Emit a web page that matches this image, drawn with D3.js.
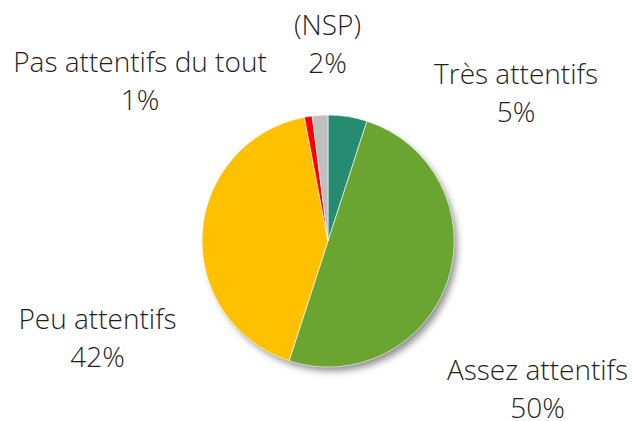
<!DOCTYPE html>
<html>
<head>
<meta charset="utf-8">
<script src="https://cdn.jsdelivr.net/npm/d3@7"></script>
<style>
  body { margin: 0; background: #fff; }
  svg text { font-family: "Open Sans", "Liberation Sans", sans-serif; font-weight: 300; fill: #1f1f1f; }
</style>
</head>
<body>
<svg id="chart" width="633" height="421"></svg>
<script>
// data, clockwise from 12 o'clock
var categories = ['Très attentifs', 'Assez attentifs', 'Peu attentifs', 'Pas attentifs du tout', '(NSP)'];
var values = [5, 50, 42, 1, 2];
var colors = ['#258B71', '#6BA531', '#FFC000', '#FF0000', '#BFBFBF'];

var svg = d3.select('#chart'),
    cx = 328, cy = 241, radius = 126;

// label anchor per slice: centre x, baseline of first line
var labelAnchor = {
    'Très attentifs': [516, 83.5],
    'Assez attentifs': [537.5, 380],
    'Peu attentifs': [97.5, 328.5],
    'Pas attentifs du tout': [140, 72],
    '(NSP)': [327.5, 35]
};
var lineGap = 38;

var defs = svg.append('defs');
var shadow = defs.append('filter').attr('id', 'shadow')
    .attr('x', '-20%').attr('y', '-20%').attr('width', '140%').attr('height', '140%');
shadow.append('feDropShadow')
    .attr('dx', 4).attr('dy', 5).attr('stdDeviation', 3.5)
    .attr('flood-color', '#000').attr('flood-opacity', 0.45);

var data = categories.map(function (c, i) {
    return { name: c, value: values[i], color: colors[i] };
});

var pie = d3.pie().sort(null).value(function (d) { return d.value; });
var arc = d3.arc().innerRadius(0).outerRadius(radius);

var g = svg.append('g').attr('transform', 'translate(' + cx + ',' + cy + ')');

g.append('circle').attr('r', radius - 1).attr('fill', '#fff').attr('filter', 'url(#shadow)');

g.selectAll('path.slice')
    .data(pie(data))
    .enter().append('path')
    .attr('class', 'slice')
    .attr('d', arc)
    .attr('fill', function (d) { return d.data.color; })
    .attr('stroke', '#fff')
    .attr('stroke-width', 0.6);

var labels = svg.selectAll('g.label')
    .data(pie(data))
    .enter().append('g')
    .attr('class', 'label')
    .attr('transform', function (d) {
        var p = labelAnchor[d.data.name];
        return 'translate(' + p[0] + ',' + p[1] + ')';
    });

labels.append('text')
    .attr('text-anchor', 'middle')
    .style('font-size', '28px')
    .text(function (d) { return d.data.name; });

labels.append('text')
    .attr('text-anchor', 'middle')
    .attr('y', lineGap)
    .style('font-size', '28px')
    .text(function (d) { return d.data.value + '%'; });
</script>
</body>
</html>
